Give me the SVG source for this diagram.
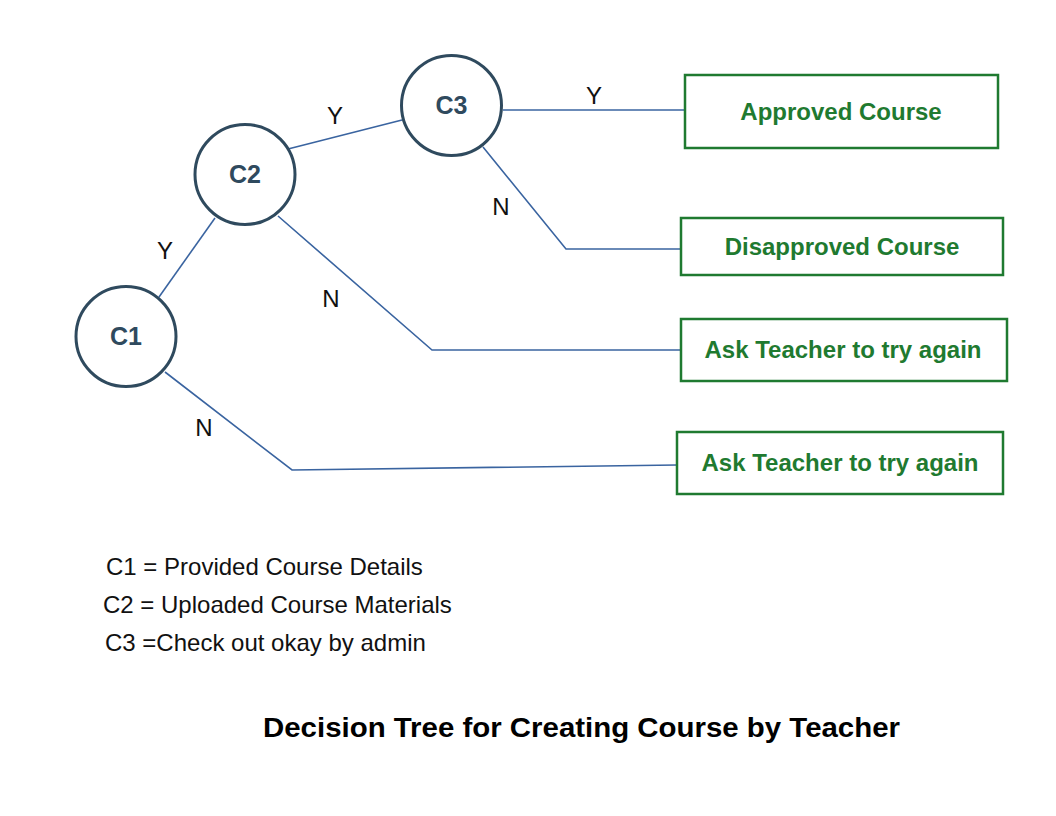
<svg xmlns="http://www.w3.org/2000/svg" width="1056" height="816" viewBox="0 0 1056 816">
<style>
.c{fill:#fff;stroke:#2f4a5e;stroke-width:3}
.ct{font-family:"Liberation Sans",Arial,sans-serif;font-weight:bold;font-size:25px;fill:#2f4a5e;text-anchor:middle}
.b{fill:#fff;stroke:#1f7a30;stroke-width:2.5}
.bt{font-family:"Liberation Sans",Arial,sans-serif;font-weight:bold;font-size:24px;fill:#1f7a30;text-anchor:middle}
.e{fill:none;stroke:#3a64a0;stroke-width:1.6}
.l{font-family:"Liberation Sans",Arial,sans-serif;font-size:24px;fill:#111;text-anchor:middle}
.g{font-family:"Liberation Sans",Arial,sans-serif;font-size:24px;fill:#111}
.t{font-family:"Liberation Sans",Arial,sans-serif;font-weight:bold;font-size:28px;fill:#000}
</style>
<rect width="1056" height="816" fill="#fff"/>
<g id="connectors">
<polyline class="e" points="159,297 215,218"/>
<polyline class="e" points="288,149 402,120"/>
<polyline class="e" points="503,110 685,110"/>
<polyline class="e" points="483,147 566,249 681,249"/>
<polyline class="e" points="278,216 432,350 681,350"/>
<polyline class="e" points="165,372 292,470 677,465"/>
<text class="l" x="165" y="259">Y</text>
<text class="l" x="335" y="124">Y</text>
<text class="l" x="594" y="104">Y</text>
<text class="l" x="501" y="215">N</text>
<text class="l" x="331" y="307">N</text>
<text class="l" x="204" y="436">N</text>
</g>
<g id="C1"><circle class="c" cx="126" cy="336.5" r="50"/><text class="ct" x="126" y="345">C1</text></g>
<g id="C2"><circle class="c" cx="245" cy="174.5" r="50"/><text class="ct" x="245" y="183">C2</text></g>
<g id="C3"><circle class="c" cx="451.5" cy="105.5" r="50"/><text class="ct" x="451.5" y="114">C3</text></g>
<g id="approved"><rect class="b" x="685" y="75" width="313" height="73"/><text class="bt" x="841" y="120">Approved Course</text></g>
<g id="disapproved"><rect class="b" x="681" y="218" width="322" height="57"/><text class="bt" x="842" y="255">Disapproved Course</text></g>
<g id="ask1"><rect class="b" x="681" y="319" width="326" height="62"/><text class="bt" x="843" y="358">Ask Teacher to try again</text></g>
<g id="ask2"><rect class="b" x="677" y="432" width="326" height="62"/><text class="bt" x="840" y="471">Ask Teacher to try again</text></g>
<g id="legend">
<text class="g" x="106" y="575">C1 = Provided Course Details</text>
<text class="g" x="103" y="613">C2 = Uploaded Course Materials</text>
<text class="g" x="105" y="651">C3 =Check out okay by admin</text>
</g>
<text class="t" x="263" y="737" textLength="637" lengthAdjust="spacingAndGlyphs">Decision Tree for Creating Course by Teacher</text>
</svg>
